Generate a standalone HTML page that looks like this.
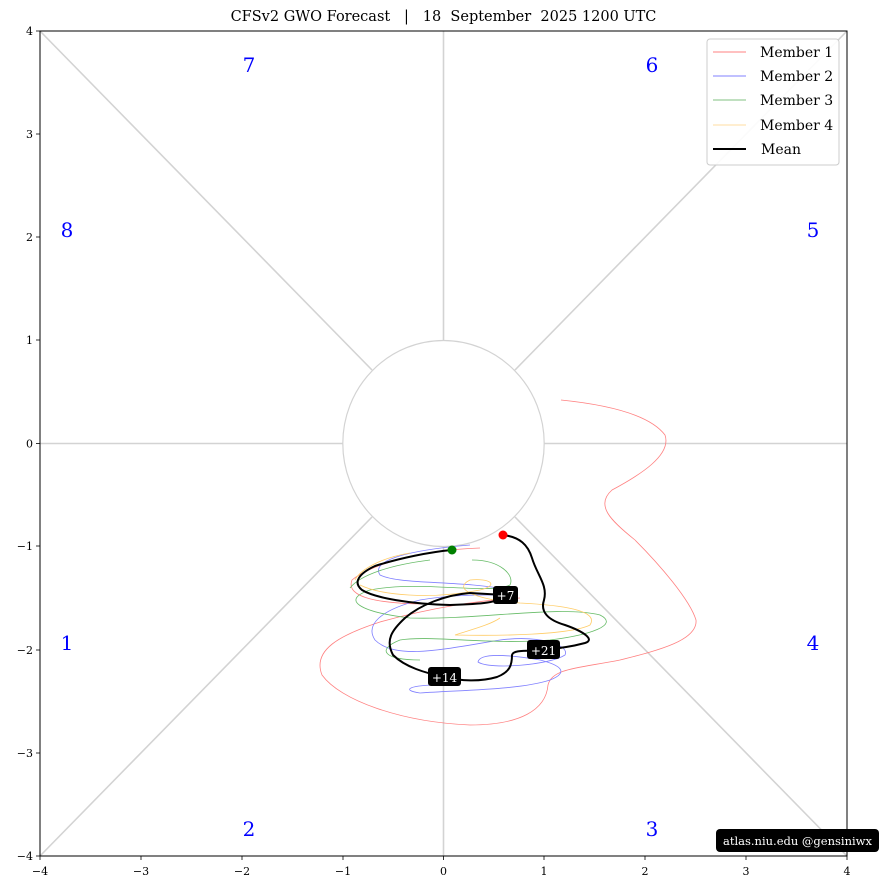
<!DOCTYPE html>
<html><head><meta charset="utf-8"><style>
html,body{margin:0;padding:0;background:#fff;width:881px;height:890px;overflow:hidden}
svg{display:block;font-family:"DejaVu Serif","Liberation Serif",serif}
</style></head><body>
<svg width="881" height="890" viewBox="0 0 881 890" xmlns="http://www.w3.org/2000/svg">
<text x="443.5" y="21" text-anchor="middle" font-size="14.5" fill="#000" xml:space="preserve">CFSv2 GWO Forecast   |   18  September  2025 1200 UTC</text>
<g stroke="#d3d3d3" stroke-width="1.6" fill="none">
<line x1="40" y1="443.5" x2="343" y2="443.5"/>
<line x1="544" y1="443.5" x2="847" y2="443.5"/>
<line x1="443.5" y1="31" x2="443.5" y2="340"/>
<line x1="443.5" y1="546" x2="443.5" y2="856"/>
<line x1="40" y1="31" x2="372" y2="370"/>
<line x1="847" y1="31" x2="515" y2="370"/>
<line x1="40" y1="856" x2="372" y2="517"/>
<line x1="847" y1="856" x2="515" y2="517"/>
<ellipse cx="443.5" cy="443.5" rx="100.7" ry="103" stroke-width="1.2"/>
</g>
<g fill="none" stroke-width="0.8">
<path stroke="#ff8080" d="M561,400 C610,405 650,415 665,435 C672,455 640,475 612,490 C595,505 610,520 635,540 C660,565 690,600 696,620 C698,640 660,650 620,660 C580,668 552,668 548,685 C546,710 520,725 470,725 C400,722 340,700 322,675 C312,650 340,635 380,622 C430,608 480,600 520,598"/>
<path stroke="#ff8080" d="M480,548 C420,550 370,565 352,580 C345,598 380,604 430,604"/>
<path stroke="#8080ff" d="M470,545 C410,550 370,560 380,575 C400,585 460,580 510,590 C520,600 480,590 420,600 C380,610 365,625 375,640 C395,660 440,650 500,640 C540,635 570,645 565,655 C550,665 490,670 478,662 C480,652 510,655 540,660 C560,665 570,672 550,680 C520,690 460,690 420,693 C400,690 410,685 440,685"/>
<path stroke="#66bb66" d="M472,560 C500,560 515,575 510,585 C490,595 420,580 370,590 C340,600 360,612 410,618 C480,620 560,605 600,615 C620,625 590,635 550,640 C490,645 430,635 400,640 C375,650 385,660 420,660"/>
<path stroke="#66bb66" d="M430,560 C390,565 360,575 350,588"/>
<path stroke="#ffcc66" d="M360,585 C380,595 430,600 480,590 C500,585 490,578 470,580 C450,590 480,600 520,603 C560,605 600,610 590,625 C570,635 500,636 455,635 C470,630 490,625 500,618"/>
<path stroke="#ffcc66" d="M410,553 C380,558 360,570 355,580"/>
</g>
<path fill="none" stroke="#000" stroke-width="2" d="M503,535 C520,537 528,545 532,558 C537,575 548,585 544,600 C540,612 548,620 565,625 C585,632 595,640 585,643 C570,647 560,648 543,650 C525,651 513,650 512,655 C512,665 510,672 497,677 C480,682 460,681 445,677 C425,673 405,667 393,655 C385,640 392,630 405,618 C420,605 445,595 470,593 L505,595 C500,603 480,604 450,605 C410,604 375,598 362,590 C352,582 360,573 375,566 C400,558 430,552 452,550"/>
<circle cx="503" cy="535" r="4.5" fill="#ff0000"/>
<circle cx="452" cy="550" r="4.5" fill="#008000"/>
<g font-size="12" fill="#fff" text-anchor="middle">
<rect x="493" y="586" width="25" height="18" rx="3" fill="#000"/><text x="505.5" y="600">+7</text>
<rect x="527" y="640" width="33" height="19" rx="3" fill="#000"/><text x="543.5" y="655">+21</text>
<rect x="428" y="667" width="33" height="19" rx="3" fill="#000"/><text x="444.5" y="682">+14</text>
</g>
<g font-size="20" fill="#0000ff" text-anchor="middle">
<text x="249" y="72">7</text><text x="652" y="72">6</text>
<text x="67" y="237">8</text><text x="813" y="237">5</text>
<text x="67" y="650">1</text><text x="813" y="650">4</text>
<text x="249" y="836">2</text><text x="652" y="836">3</text>
</g>
<rect x="40" y="31" width="807" height="825" fill="none" stroke="#000" stroke-width="1"/>
<g stroke="#000" stroke-width="0.8">
<line x1="40" y1="856" x2="40" y2="860"/><line x1="141" y1="856" x2="141" y2="860"/><line x1="242" y1="856" x2="242" y2="860"/><line x1="343" y1="856" x2="343" y2="860"/><line x1="443.5" y1="856" x2="443.5" y2="860"/><line x1="544" y1="856" x2="544" y2="860"/><line x1="645" y1="856" x2="645" y2="860"/><line x1="746" y1="856" x2="746" y2="860"/><line x1="847" y1="856" x2="847" y2="860"/>
<line x1="36" y1="31" x2="40" y2="31"/><line x1="36" y1="134" x2="40" y2="134"/><line x1="36" y1="237" x2="40" y2="237"/><line x1="36" y1="340" x2="40" y2="340"/><line x1="36" y1="443.5" x2="40" y2="443.5"/><line x1="36" y1="546" x2="40" y2="546"/><line x1="36" y1="650" x2="40" y2="650"/><line x1="36" y1="753" x2="40" y2="753"/><line x1="36" y1="856" x2="40" y2="856"/>
</g>
<g font-size="11" fill="#000" text-anchor="middle">
<text x="40" y="875">−4</text><text x="141" y="875">−3</text><text x="242" y="875">−2</text><text x="343" y="875">−1</text><text x="443.5" y="875">0</text><text x="544" y="875">1</text><text x="645" y="875">2</text><text x="746" y="875">3</text><text x="847" y="875">4</text>
</g>
<g font-size="11" fill="#000" text-anchor="end">
<text x="33" y="35">4</text><text x="33" y="138">3</text><text x="33" y="241">2</text><text x="33" y="344">1</text><text x="33" y="447.5">0</text><text x="33" y="550">−1</text><text x="33" y="654">−2</text><text x="33" y="757">−3</text><text x="33" y="860">−4</text>
</g>
<rect x="707" y="39" width="132" height="126" rx="3" fill="#fff" fill-opacity="0.9" stroke="#ccc" stroke-width="1"/>
<g stroke-width="1">
<line x1="713" y1="52" x2="746" y2="52" stroke="#ff8080"/>
<line x1="713" y1="76" x2="746" y2="76" stroke="#8080ff"/>
<line x1="713" y1="100" x2="746" y2="100" stroke="#80c080"/>
<line x1="713" y1="125" x2="746" y2="125" stroke="#ffdca0"/>
<line x1="713" y1="149" x2="746" y2="149" stroke="#000" stroke-width="2"/>
</g>
<g font-size="14" fill="#000">
<text x="760" y="57">Member 1</text><text x="760" y="81">Member 2</text><text x="760" y="105">Member 3</text><text x="760" y="130">Member 4</text><text x="761" y="154">Mean</text>
</g>
<rect x="716" y="829" width="163" height="23" rx="4" fill="#000"/>
<text x="797.5" y="845" font-size="11.5" fill="#fff" text-anchor="middle">atlas.niu.edu @gensiniwx</text>
</svg>
</body></html>
